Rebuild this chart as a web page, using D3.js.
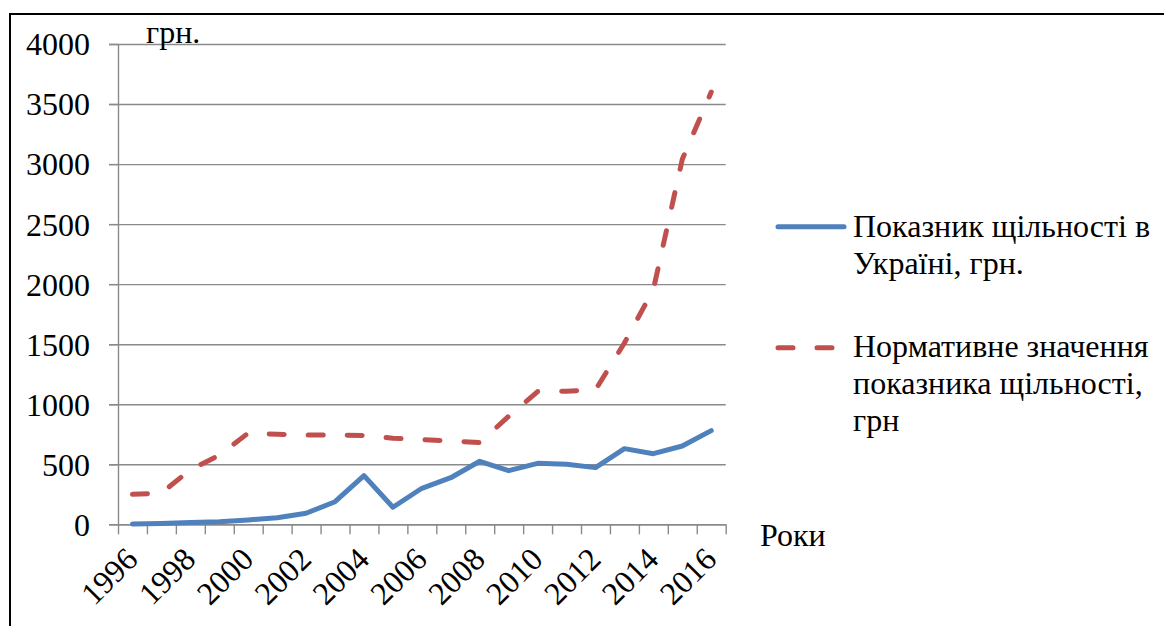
<!DOCTYPE html>
<html>
<head>
<meta charset="utf-8">
<script src="https://cdn.jsdelivr.net/npm/d3@7"></script>
<style>
  html, body { margin: 0; padding: 0; background: #fff; }
  svg { display: block; }
</style>
</head>
<body>
<svg id="chart" width="1164" height="626"></svg>
<script>
// Years on the horizontal axis
const years = ["1996","1997","1998","1999","2000","2001","2002","2003","2004","2005",
               "2006","2007","2008","2009","2010","2011","2012","2013","2014","2015","2016"];
// Density indicator in Ukraine, UAH
const densityUa = [3, 6, 14, 22, 36, 55, 92, 188, 405, 142, 300, 388, 525, 447, 508, 500, 472, 630, 588, 652, 780];
// Normative value of the density indicator, UAH
const densityNorm = [250, 260, 455, 575, 760, 750, 744, 744, 740, 717, 705, 694, 680, 900, 1105, 1108, 1120, 1510, 1955, 3040, 3600];
// Value axis ticks
const yTicks = [0, 500, 1000, 1500, 2000, 2500, 3000, 3500, 4000];
// Labelled years (every second one)
const xLabelYears = years.filter((d, i) => i % 2 === 0);
// Legend entries
const seriesNames = [
  ["Показник щільності в", "Україні, грн."],
  ["Нормативне значення", "показника щільності,", "грн"]
];

const svg = d3.select("#chart");
const W = 1164, H = 626;
const plot = { left: 118, right: 725.7, top: 44, bottom: 524.3 };
const SERIF = '"Liberation Serif", "Times New Roman", Tinos, serif';
const FONT = "32px";
const GRID = "#8a8a8a";
const BLUE = "#4f81bd";
const RED = "#c0504d";

const styleText = sel => sel
  .style("font-family", SERIF)
  .style("font-size", FONT)
  .attr("fill", "#000");

// Outer frame (only top and left edges fall inside the canvas)
svg.append("rect")
  .attr("x", 10).attr("y", 14)
  .attr("width", W + 20).attr("height", H + 20)
  .attr("fill", "none").attr("stroke", "#000").attr("stroke-width", 2);

const x = d3.scaleBand().domain(years).range([plot.left, plot.right]).padding(0);
const xEdge = d3.scaleLinear().domain([0, years.length]).range([plot.left, plot.right]);
const y = d3.scaleLinear().domain([0, 4000]).range([plot.bottom, plot.top]);
const cx = d => x(d) + x.bandwidth() / 2;

// Horizontal gridlines
const grid = svg.append("g")
  .attr("transform", `translate(${plot.right},0)`)
  .call(d3.axisLeft(y).tickValues(yTicks).tickSize(plot.right - plot.left + 9).tickFormat(""));
grid.select(".domain").remove();
grid.selectAll(".tick line").attr("stroke", GRID).attr("stroke-width", 1.4);

// Value axis with labels
const yAxis = svg.append("g")
  .attr("transform", `translate(${plot.left},0)`)
  .call(d3.axisLeft(y).tickValues(yTicks).tickFormat(d3.format("d"))
        .tickSize(9).tickPadding(19).tickSizeOuter(0));
yAxis.select(".domain").attr("stroke", GRID).attr("stroke-width", 1.4);
yAxis.selectAll(".tick line").attr("stroke", GRID).attr("stroke-width", 1.4);
yAxis.selectAll(".tick text").call(styleText).attr("dy", "0.34em");

// Category tick marks at band edges
const xTicks = svg.append("g")
  .attr("transform", `translate(0,${plot.bottom})`)
  .call(d3.axisBottom(xEdge).tickValues(d3.range(0, years.length + 1))
        .tickSize(10).tickFormat("").tickSizeOuter(0));
xTicks.select(".domain").attr("stroke", GRID).attr("stroke-width", 1.4);
xTicks.selectAll(".tick line").attr("stroke", GRID).attr("stroke-width", 1.4);

// Rotated year labels
const xLabels = svg.append("g")
  .attr("transform", `translate(0,${plot.bottom})`)
  .call(d3.axisBottom(x).tickValues(xLabelYears).tickSize(0));
xLabels.select(".domain").remove();
xLabels.selectAll(".tick text")
  .call(styleText)
  .attr("x", 0).attr("y", 0).attr("dy", 0)
  .attr("text-anchor", "end")
  .attr("transform", "translate(7,37) rotate(-45)");

// Series lines
const line = d3.line().x((d, i) => cx(years[i])).y(d => y(d));

svg.append("path")
  .datum(densityNorm)
  .attr("d", line)
  .attr("fill", "none")
  .attr("stroke", RED)
  .attr("stroke-width", 5)
  .attr("stroke-linecap", "round")
  .attr("stroke-linejoin", "round")
  .attr("stroke-dasharray", "15,24");

svg.append("path")
  .datum(densityUa)
  .attr("d", line)
  .attr("fill", "none")
  .attr("stroke", BLUE)
  .attr("stroke-width", 5)
  .attr("stroke-linecap", "round")
  .attr("stroke-linejoin", "round");

// Axis captions
svg.append("text").attr("x", 146).attr("y", 43).call(styleText).text("грн.");
svg.append("text").attr("x", 760).attr("y", 546).call(styleText).text("Роки");

// Legend
const legend = svg.append("g");
const legendItems = [
  { color: BLUE, dash: null, lineY: 226.7, textY: 237, lines: seriesNames[0] },
  { color: RED, dash: "15,24", lineY: 347.7, textY: 357, lines: seriesNames[1] }
];
legendItems.forEach(item => {
  legend.append("line")
    .attr("x1", 778).attr("x2", 844)
    .attr("y1", item.lineY).attr("y2", item.lineY)
    .attr("stroke", item.color)
    .attr("stroke-width", 5)
    .attr("stroke-linecap", "round")
    .attr("stroke-dasharray", item.dash);
  const t = legend.append("text").attr("x", 853).attr("y", item.textY).call(styleText);
  item.lines.forEach((s, i) => {
    t.append("tspan").attr("x", 853).attr("dy", i === 0 ? 0 : 37).text(s);
  });
});
</script>
</body>
</html>
